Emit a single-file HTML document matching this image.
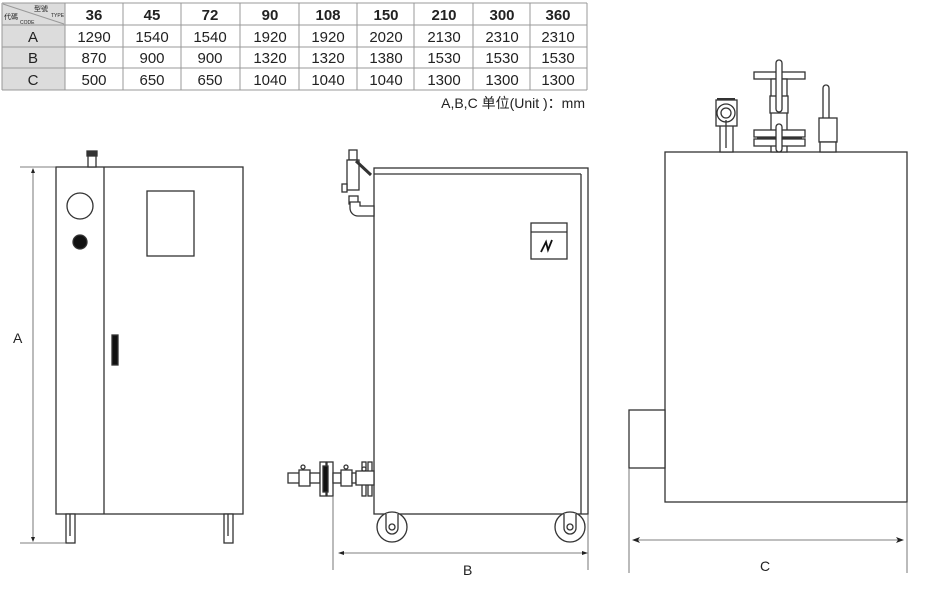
<!DOCTYPE html>
<html><head><meta charset="utf-8"><style>
html,body{margin:0;padding:0;background:#fff;width:925px;height:593px;overflow:hidden}
svg{display:block}
text{font-family:"Liberation Sans","Noto Sans CJK SC",sans-serif;fill:#222}
</style></head><body>
<svg width="925" height="593" viewBox="0 0 925 593" xmlns="http://www.w3.org/2000/svg">
<!-- TABLE -->
<rect x="2" y="3" width="63" height="87" fill="#dcdcdc"/>
<g stroke="#999" stroke-width="1" fill="none">
<line x1="2" y1="3" x2="587" y2="3"/>
<line x1="2" y1="25" x2="587" y2="25"/>
<line x1="2" y1="47" x2="587" y2="47"/>
<line x1="2" y1="68" x2="587" y2="68"/>
<line x1="2" y1="90" x2="587" y2="90"/>
<line x1="2" y1="3" x2="2" y2="90"/>
<line x1="65" y1="3" x2="65" y2="90"/>
<line x1="123" y1="3" x2="123" y2="90"/>
<line x1="181" y1="3" x2="181" y2="90"/>
<line x1="240" y1="3" x2="240" y2="90"/>
<line x1="299" y1="3" x2="299" y2="90"/>
<line x1="357" y1="3" x2="357" y2="90"/>
<line x1="414" y1="3" x2="414" y2="90"/>
<line x1="473" y1="3" x2="473" y2="90"/>
<line x1="530" y1="3" x2="530" y2="90"/>
<line x1="587" y1="3" x2="587" y2="90"/>
<line x1="3" y1="4" x2="64" y2="24"/>
</g>
<text x="34" y="11" font-size="7">型號</text>
<text x="51" y="17" font-size="5">TYPE</text>
<text x="4" y="19" font-size="7">代碼</text>
<text x="20" y="24" font-size="5">CODE</text>
<g font-size="15" font-weight="bold" text-anchor="middle">
<text x="94" y="20">36</text><text x="152" y="20">45</text><text x="210" y="20">72</text>
<text x="270" y="20">90</text><text x="328" y="20">108</text><text x="386" y="20">150</text>
<text x="444" y="20">210</text><text x="502" y="20">300</text><text x="558" y="20">360</text>
</g>
<g font-size="15" text-anchor="middle">
<text x="33" y="42">A</text><text x="33" y="63">B</text><text x="33" y="85">C</text>
<text x="94" y="42">1290</text><text x="152" y="42">1540</text><text x="210" y="42">1540</text><text x="270" y="42">1920</text><text x="328" y="42">1920</text><text x="386" y="42">2020</text><text x="444" y="42">2130</text><text x="502" y="42">2310</text><text x="558" y="42">2310</text>
<text x="94" y="63">870</text><text x="152" y="63">900</text><text x="210" y="63">900</text><text x="270" y="63">1320</text><text x="328" y="63">1320</text><text x="386" y="63">1380</text><text x="444" y="63">1530</text><text x="502" y="63">1530</text><text x="558" y="63">1530</text>
<text x="94" y="85">500</text><text x="152" y="85">650</text><text x="210" y="85">650</text><text x="270" y="85">1040</text><text x="328" y="85">1040</text><text x="386" y="85">1040</text><text x="444" y="85">1300</text><text x="502" y="85">1300</text><text x="558" y="85">1300</text>
</g>
<text x="585" y="108" font-size="14" text-anchor="end">A,B,C  单位(Unit )：mm</text>

<g stroke="#333" stroke-width="1.3" fill="#fff">
<!-- FRONT VIEW -->
<rect x="56" y="167" width="187" height="347"/>
<line x1="104" y1="167" x2="104" y2="514"/>
<circle cx="80" cy="206" r="13"/>
<circle cx="80" cy="242" r="7" fill="#111"/>
<rect x="147" y="191" width="47" height="65"/>
<rect x="112" y="335" width="6" height="30" fill="#111"/>
<rect x="88" y="154" width="8" height="13"/>
<rect x="87" y="151" width="10" height="5" fill="#333"/>
<rect x="66" y="514" width="9" height="29"/><line x1="70" y1="514" x2="70" y2="536"/>
<rect x="224" y="514" width="9" height="29"/><line x1="228" y1="514" x2="228" y2="536"/>
</g>
<g stroke="#555" stroke-width="0.8">
<line x1="20" y1="167" x2="56" y2="167"/>
<line x1="20" y1="543" x2="66" y2="543"/>
<line x1="33" y1="170" x2="33" y2="540"/>
</g>
<path d="M33 168 l-2 5 h4z M33 542 l-2 -5 h4z" fill="#222"/>
<text x="13" y="343" font-size="14">A</text>

<!-- SIDE VIEW -->
<g stroke="#333" stroke-width="1.3" fill="#fff">
<rect x="374" y="168" width="214" height="346"/>
<line x1="374" y1="174" x2="581" y2="174"/>
<line x1="581" y1="174" x2="581" y2="514"/>
<rect x="531" y="223" width="36" height="36"/>
<line x1="531" y1="232" x2="567" y2="232"/>
<!-- wheels -->
<circle cx="392" cy="527" r="15"/><path d="M386 514 v14 a6 6 0 0 0 12 0 v-14" /><circle cx="392" cy="527" r="3"/>
<circle cx="570" cy="527" r="15"/><path d="M564 514 v14 a6 6 0 0 0 12 0 v-14" /><circle cx="570" cy="527" r="3"/>
<!-- top valve -->
<rect x="349" y="150" width="8" height="10"/>
<rect x="347" y="160" width="12" height="30"/>
<rect x="342" y="184" width="5" height="8"/>
<line x1="356" y1="161" x2="371" y2="175" stroke-width="3"/>
<rect x="349" y="196" width="9" height="8"/>
<path d="M350 202 v6 a8 8 0 0 0 8 8 h16 v-10 h-14 v-4z"/>
<!-- bottom piping -->
<rect x="288" y="473" width="12" height="10"/>
<rect x="299" y="470" width="11" height="16"/>
<rect x="310" y="473" width="10" height="10"/>
<rect x="320" y="462" width="6" height="34"/>
<rect x="327" y="462" width="6" height="34"/>
<rect x="323" y="466" width="5" height="26" fill="#111"/>
<rect x="333" y="473" width="8" height="10"/>
<rect x="341" y="470" width="11" height="16"/>
<rect x="352" y="473" width="4" height="10"/>
<rect x="362" y="462" width="4" height="34"/>
<rect x="368" y="462" width="4" height="34"/>
<rect x="356" y="471" width="18" height="14"/>
<circle cx="303" cy="467" r="2"/><circle cx="346" cy="467" r="2"/><circle cx="364" cy="469" r="2"/>
</g>
<path d="M541 252 l5 -10 l2 8 l4 -10" stroke="#111" stroke-width="1.8" fill="none"/>
<g stroke="#555" stroke-width="0.8">
<line x1="333" y1="496" x2="333" y2="570"/>
<line x1="588" y1="514" x2="588" y2="570"/>
<line x1="340" y1="553" x2="586" y2="553"/>
</g>
<path d="M338 553 l6 -2 v4z M588 553 l-6 -2 v4z" fill="#222"/>
<text x="463" y="575" font-size="14">B</text>

<!-- RIGHT VIEW -->
<g stroke="#333" stroke-width="1.3" fill="#fff">
<rect x="665" y="152" width="242" height="350"/>
<rect x="629" y="410" width="36" height="58"/>
<!-- gauge -->
<rect x="720" y="112" width="13" height="40"/>
<rect x="716" y="100" width="21" height="26"/>
<circle cx="726" cy="113" r="9"/><circle cx="726" cy="113" r="5"/>
<line x1="717" y1="99" x2="735" y2="99" stroke-width="2"/>
<line x1="726" y1="120" x2="726" y2="148"/>
<!-- middle valve -->
<rect x="754" y="72" width="51" height="7"/>
<rect x="771" y="79" width="16" height="73"/>
<rect x="770" y="96" width="18" height="17"/>
<rect x="754" y="130" width="51" height="7"/>
<rect x="754" y="139" width="51" height="7"/>
<line x1="757" y1="138" x2="802" y2="138" stroke-width="2.5"/>
<rect x="776" y="60" width="6" height="52" rx="3"/>
<rect x="776" y="124" width="6" height="28" rx="3"/>
<!-- right ball valve -->
<rect x="823" y="85" width="6" height="55" rx="3"/>
<rect x="819" y="118" width="18" height="24"/>
<rect x="820" y="142" width="16" height="10"/>
</g>
<g stroke="#555" stroke-width="0.8">
<line x1="629" y1="468" x2="629" y2="573"/>
<line x1="907" y1="502" x2="907" y2="573"/>
<line x1="634" y1="540" x2="902" y2="540"/>
</g>
<path d="M632 540 l8 -3 l-2 3 l2 3z M904 540 l-8 -3 l2 3 l-2 3z" fill="#222"/>
<text x="760" y="571" font-size="14">C</text>
</svg>
</body></html>
